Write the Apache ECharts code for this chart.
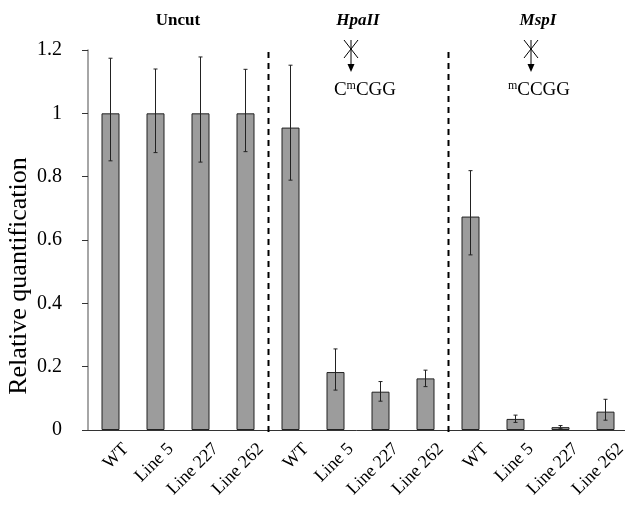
<!DOCTYPE html>
<html>
<head>
<meta charset="utf-8">
<script src="https://cdn.jsdelivr.net/npm/echarts@6/dist/echarts.min.js"></script>
<style>
  html, body { margin: 0; padding: 0; background: #fff; }
  #chart { width: 625px; height: 505px; }
</style>
</head>
<body>
<div id="chart"></div>
<script>
// 3 digests x 4 lines
const categories = ["WT", "Line 5", "Line 227", "Line 262",
  "WT", "Line 5", "Line 227", "Line 262",
  "WT", "Line 5", "Line 227", "Line 262"];
const values = [1, 1, 1, 1, 0.955, 0.183, 0.121, 0.163, 0.674, 0.035, 0.009, 0.058];
const errLow = [0.85, 0.876, 0.846, 0.879, 0.789, 0.126, 0.091, 0.137, 0.553, 0.024, 0.004, 0.031];
const errHigh = [1.174, 1.14, 1.178, 1.139, 1.152, 0.256, 0.153, 0.189, 0.819, 0.047, 0.014, 0.097];
const groups = ["Uncut", "HpaII", "MspI"];
const groupStart = [0, 4, 8];
const sites = ["", "C{s|m}CGG", "{s|m}CCGG"];
const dividers = [3, 7];

const serif = "'Liberation Serif', 'Times New Roman', serif";
const chart = echarts.init(document.getElementById("chart"));

chart.setOption({
  animation: false,
  grid: { left: 88, top: 50, right: -3, bottom: 75, containLabel: false, outerBoundsMode: "none" },
  xAxis: {
    type: "category",
    data: categories,
    axisLine: { lineStyle: { color: "#333", width: 1 } },
    axisTick: { length: 5, lineStyle: { color: "#333" } },
    axisLabel: { show: false }
  },
  yAxis: {
    type: "value",
    min: 0, max: 1.2, interval: 0.2,
    name: "Relative quantification",
    nameLocation: "middle",
    nameGap: 56,
    nameMoveOverlap: false,
    nameTextStyle: { fontFamily: serif, fontSize: 26, color: "#000", padding: [0, 72, 0, 0] },
    axisLine: { show: true, lineStyle: { color: "#888", width: 1.5 } },
    axisTick: { show: true, length: 6, lineStyle: { color: "#333" } },
    splitLine: { show: false },
    axisLabel: {
      color: "#000", fontFamily: serif, fontSize: 20, margin: 26,
      formatter: v => String(+v.toFixed(1))
    }
  },
  series: [
    {
      type: "bar",
      data: values,
      barWidth: 18,
      itemStyle: { color: "#9c9c9c", borderColor: "#222", borderWidth: 1 }
    },
    {
      type: "custom",
      data: values.map((v, i) => [i, errLow[i], errHigh[i]]),
      z: 5,
      renderItem: (params, api) => {
        const x = api.coord([api.value(0), 0])[0];
        const lo = api.coord([api.value(0), api.value(1)])[1];
        const hi = api.coord([api.value(0), api.value(2)])[1];
        const st = { stroke: "#222", lineWidth: 1 };
        return {
          type: "group",
          children: [
            { type: "line", shape: { x1: x, y1: lo, x2: x, y2: hi }, style: st },
            { type: "line", shape: { x1: x - 2, y1: lo, x2: x + 2, y2: lo }, style: st },
            { type: "line", shape: { x1: x - 2, y1: hi, x2: x + 2, y2: hi }, style: st }
          ]
        };
      }
    },
    {
      // slanted category labels, anchored a little right of the bar like the original
      type: "custom",
      data: categories.map((c, i) => [i, 0]),
      z: 4,
      renderItem: (params, api) => {
        const p = api.coord([api.value(0), 0]);
        return {
          type: "text",
          x: p[0] + 9,
          y: p[1] + 10,
          rotation: Math.PI / 4,
          style: {
            text: categories[params.dataIndex], align: "right", verticalAlign: "top",
            fontFamily: serif, fontSize: 18, fill: "#000"
          }
        };
      }
    },
    {
      // dashed dividers between digests
      type: "custom",
      data: dividers.map(d => [d, 0]),
      z: 6,
      renderItem: (params, api) => {
        const bw = api.size([1, 0])[0];
        const x = Math.round(api.coord([api.value(0), 0])[0] + bw / 2) + 0.5;
        const y0 = api.coord([0, 0])[1];
        const y1 = api.coord([0, 1.2])[1];
        return {
          type: "line",
          shape: { x1: x, y1: y1 + 2, x2: x, y2: y0 + 6 },
          style: { stroke: "#000", lineWidth: 2, lineDash: [6, 5] }
        };
      }
    },
    {
      // group headings and enzyme sites
      type: "custom",
      data: groupStart.map(g => [g, 0]),
      z: 7,
      renderItem: (params, api) => {
        const i = params.dataIndex;
        const bw = api.size([1, 0])[0];
        const cx = api.coord([api.value(0), 0])[0] + 1.5 * bw;
        const top = api.coord([0, 1.2])[1];
        const children = [{
          type: "text",
          style: {
            text: groups[i], x: cx, y: top - 29, align: "center", verticalAlign: "middle",
            font: (i > 0 ? "italic " : "") + "bold 17px " + serif, fill: "#000"
          }
        }];
        if (sites[i]) {
          const ax = cx - 7;
          const st = { stroke: "#000", lineWidth: 1 };
          children.push(
            { type: "line", shape: { x1: ax - 7, y1: top - 10, x2: ax + 7, y2: top + 8 }, style: st },
            { type: "line", shape: { x1: ax + 7, y1: top - 10, x2: ax - 7, y2: top + 8 }, style: st },
            { type: "line", shape: { x1: ax, y1: top - 10, x2: ax, y2: top + 15 }, style: st },
            { type: "polygon", shape: { points: [[ax - 3.5, top + 14], [ax + 3.5, top + 14], [ax, top + 22]] }, style: { fill: "#000" } },
            {
              type: "text",
              style: {
                text: sites[i], x: cx + (i === 1 ? 7 : 1), y: top + 40, align: "center", verticalAlign: "middle",
                fontFamily: serif, fontSize: 19, fill: "#000",
                rich: { s: { fontFamily: serif, fontSize: 12, verticalAlign: "top", lineHeight: 20 } }
              }
            }
          );
        }
        return { type: "group", children: children };
      }
    }
  ]
});
</script>
</body>
</html>
